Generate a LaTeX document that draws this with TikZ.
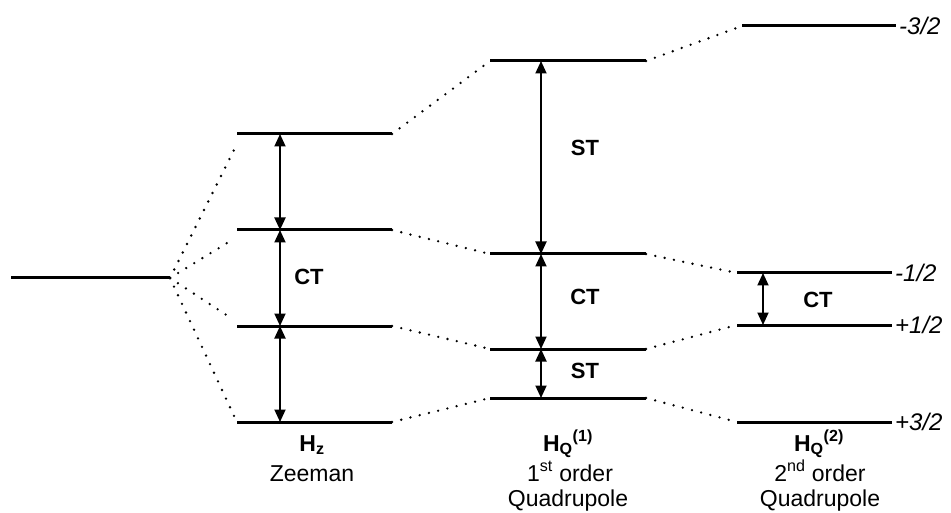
\documentclass[tikz,border=0pt]{standalone}
\usepackage{fontspec}
\setmainfont{Liberation Sans}
\usetikzlibrary{arrows.meta}
\begin{document}
\begin{tikzpicture}[x=1pt,y=-1pt,
  level/.style={line width=3pt},
  link/.style={line width=2.6pt,line cap=round,dash pattern=on 0pt off 9.5pt},
  trans/.style={line width=1.9pt,{Triangle[length=12.5pt,width=11pt]}-{Triangle[length=12.5pt,width=11pt]}},
  tlab/.style={font=\fontsize{22}{26}\selectfont\bfseries,inner sep=0pt},
  mlab/.style={font=\fontsize{24}{28}\selectfont\itshape,anchor=west,inner sep=3pt},
  blab/.style={font=\fontsize{23}{27}\selectfont,anchor=base,inner sep=0pt}]
\useasboundingbox (0,0) rectangle (951,513);
% initial level
\coordinate (i0) at (11,278); \coordinate (i1) at (170,278);
% Zeeman
\coordinate (a1l) at (237,134); \coordinate (a1r) at (392,134);
\coordinate (a2l) at (237,230); \coordinate (a2r) at (392,230);
\coordinate (a3l) at (237,326); \coordinate (a3r) at (392,326);
\coordinate (a4l) at (237,422); \coordinate (a4r) at (392,422);
% first order
\coordinate (b1l) at (490,61);  \coordinate (b1r) at (646,61);
\coordinate (b2l) at (490,254); \coordinate (b2r) at (646,254);
\coordinate (b3l) at (490,349); \coordinate (b3r) at (646,349);
\coordinate (b4l) at (490,398); \coordinate (b4r) at (646,398);
% second order
\coordinate (c1l) at (742,26);  \coordinate (c1r) at (896,26);
\coordinate (c2l) at (737,273); \coordinate (c2r) at (892,273);
\coordinate (c3l) at (737,325); \coordinate (c3r) at (892,325);
\coordinate (c4l) at (737,422); \coordinate (c4r) at (892,422);
% fan ends
\coordinate (f1) at (234,150); \coordinate (f2) at (232,240);
\coordinate (f3) at (231,318); \coordinate (f4) at (235,418);
% levels
\foreach \p/\q in {i0/i1,a1l/a1r,a2l/a2r,a3l/a3r,a4l/a4r,b1l/b1r,b2l/b2r,b3l/b3r,b4l/b4r,c1l/c1r,c2l/c2r,c3l/c3r,c4l/c4r}{
  \draw[level] (\p) -- (\q);}
% dotted links
\foreach \f in {f1,f2,f3,f4} \draw[link] (i1) -- (\f);
\foreach \k in {1,2,3,4}{
  \draw[link] (a\k r) -- (b\k l);
  \draw[link] (b\k r) -- (c\k l);}
% transition arrows
\coordinate (am1) at (280,134); \coordinate (am2) at (280,230);
\coordinate (am3) at (280,326); \coordinate (am4) at (280,422);
\coordinate (bm1) at (541,61);  \coordinate (bm2) at (541,254);
\coordinate (bm3) at (541,349); \coordinate (bm4) at (541,398);
\coordinate (cm2) at (763,273); \coordinate (cm3) at (763,325);
\draw[trans] (am1) -- (am2);
\draw[trans] (am2) -- (am3);
\draw[trans] (am3) -- (am4);
\draw[trans] (bm1) -- (bm2);
\draw[trans] (bm2) -- (bm3);
\draw[trans] (bm3) -- (bm4);
\draw[trans] (cm2) -- (cm3);
% transition labels
\node[tlab] (ct1) at (309,277) {CT};
\node[tlab] (st1) at (585,148) {ST};
\node[tlab] (ct2) at (585,297) {CT};
\node[tlab] (st2) at (585,371) {ST};
\node[tlab] (ct3) at (818,300) {CT};
% m labels
\node[mlab] (m1) at (c1r) {-3/2};
\node[mlab] (m2) at (c2r) {-1/2};
\node[mlab] (m3) at (c3r) {+1/2};
\node[mlab] (m4) at (c4r) {+3/2};
% bottom labels
\node[blab] (hz) at (312,451) {\bfseries H\textsubscript{z}};
\node[blab] (hzt) at (312,481) {Zeeman};
\node[blab] (h1) at (568,451) {\bfseries H\textsubscript{Q}\textsuperscript{(1)}};
\node[blab] (h1t) at (570,481) {1\textsuperscript{st} order};
\node[blab] (h1q) at (568,506) {Quadrupole};
\node[blab] (h2) at (819,451) {\bfseries H\textsubscript{Q}\textsuperscript{(2)}};
\node[blab] (h2t) at (820,481) {2\textsuperscript{nd} order};
\node[blab] (h2q) at (820,506) {Quadrupole};
\end{tikzpicture}
\end{document}
